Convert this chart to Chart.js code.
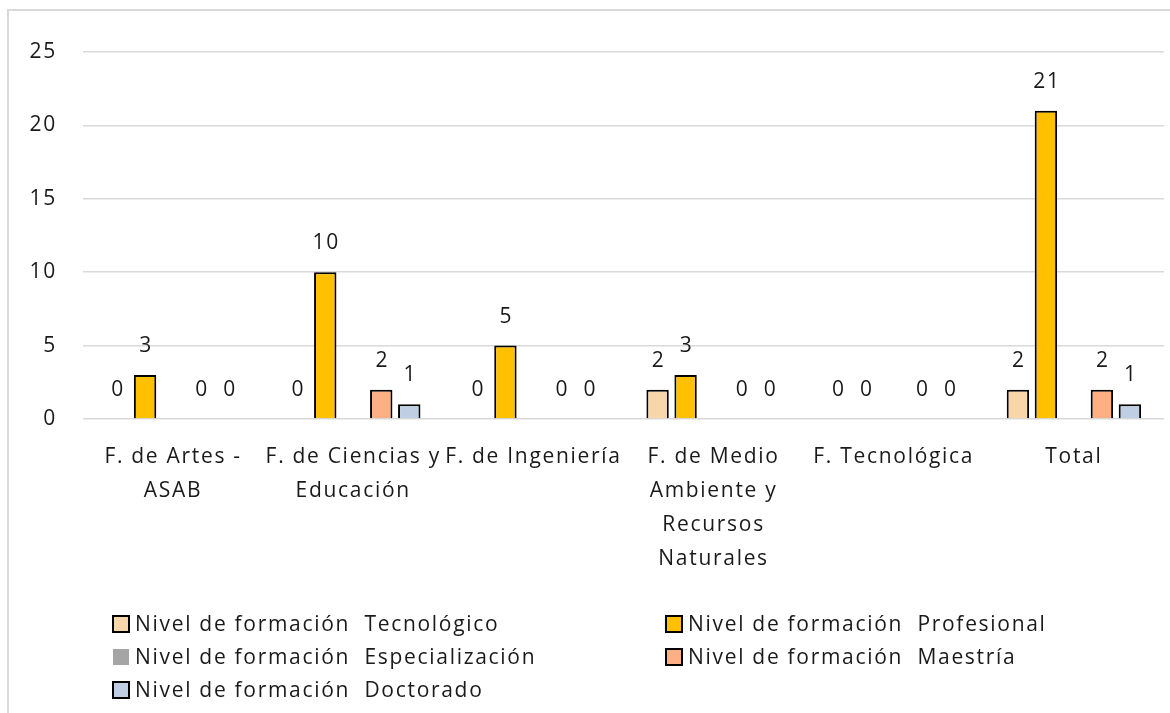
<!DOCTYPE html>
<html>
<head>
<meta charset="utf-8">
<script src="https://cdn.jsdelivr.net/npm/chart.js@4.4.1/dist/chart.umd.min.js"></script>
<style>
  html, body { margin: 0; padding: 0; background: #fff; overflow: hidden; }
  #wrap { position: relative; width: 1170px; height: 713px; }
  #frame { position: absolute; left: 7px; top: 9px; width: 1200px; height: 800px;
           border: 2px solid #d9d9d9; box-sizing: border-box; }
  canvas { position: absolute; left: 0; top: 0; }
</style>
</head>
<body>
<div id="wrap">
  <div id="frame"></div>
  <canvas id="chart" width="1170" height="713"></canvas>
</div>
<script>
// Faculties (multi-line axis labels)
const categories = [
  ["F. de Artes -", "ASAB"],
  ["F. de Ciencias y", "Educación"],
  ["F. de Ingeniería"],
  ["F. de Medio", "Ambiente y", "Recursos", "Naturales"],
  ["F. Tecnológica"],
  ["Total"]
];

const seriesNames = [
  "Nivel de formación  Tecnológico",
  "Nivel de formación  Profesional",
  "Nivel de formación  Especialización",
  "Nivel de formación  Maestría",
  "Nivel de formación  Doctorado"
];

const tecnologico     = [0, 0, 0, 2, 0, 2];
const profesional     = [3, 10, 5, 3, 0, 21];
const especializacion = [null, null, null, null, null, null];
const maestria        = [0, 2, 0, 0, 0, 2];
const doctorado       = [0, 1, 0, 0, 0, 1];

const yTicks = [0, 5, 10, 15, 20, 25];

const FONT = "'Open Sans', 'Noto Sans', sans-serif";
const SIZE = 21;
const TEXT = "#1a1a1a";
const SPACING = "1.7px";

// Wider tracking for every piece of canvas text
const tracking = {
  id: "tracking",
  beforeInit(chart) { chart.ctx.letterSpacing = SPACING; },
  beforeUpdate(chart) { chart.ctx.letterSpacing = SPACING; },
  beforeDraw(chart) { chart.ctx.letterSpacing = SPACING; }
};

// Value labels above each bar
const valueLabels = {
  id: "valueLabels",
  afterDatasetsDraw(chart) {
    const ctx = chart.ctx;
    ctx.save();
    ctx.font = SIZE + "px " + FONT;
    ctx.fillStyle = TEXT;
    ctx.textAlign = "center";
    ctx.textBaseline = "middle";
    chart.data.datasets.forEach((ds, i) => {
      const meta = chart.getDatasetMeta(i);
      meta.data.forEach((el, j) => {
        const v = ds.data[j];
        if (v === null || v === undefined) return;
        ctx.fillText(String(v), el.x + 1, el.y - 29);
      });
    });
    ctx.restore();
  }
};

// Two-column legend under the plot
const gridLegend = {
  id: "gridLegend",
  afterDraw(chart) {
    const ctx = chart.ctx;
    const cols = [113, 666];
    const rows = [624, 657, 690];
    ctx.save();
    ctx.font = SIZE + "px " + FONT;
    ctx.textAlign = "left";
    ctx.textBaseline = "middle";
    chart.data.datasets.forEach((ds, i) => {
      const x = cols[i % 2];
      const y = rows[Math.floor(i / 2)];
      ctx.fillStyle = ds.backgroundColor;
      ctx.fillRect(x, y - 8, 16, 16);
      if (ds.borderWidth > 0) {
        ctx.strokeStyle = ds.borderColor;
        ctx.lineWidth = 2;
        ctx.strokeRect(x, y - 8, 16, 16);
      }
      ctx.fillStyle = TEXT;
      ctx.fillText(ds.label, x + 22, y + 1);
    });
    ctx.restore();
  }
};

function bar(label, data, color, border) {
  return {
    label, data,
    backgroundColor: color,
    borderColor: "#000",
    borderWidth: border,
    borderSkipped: "bottom",
    categoryPercentage: 0.777,
    barPercentage: 0.8
  };
}

new Chart(document.getElementById("chart"), {
  type: "bar",
  data: {
    labels: categories,
    datasets: [
      bar(seriesNames[0], tecnologico, "#F9D6A9", 2),
      bar(seriesNames[1], profesional, "#FFC000", 2),
      bar(seriesNames[2], especializacion, "#A5A5A5", 0),
      bar(seriesNames[3], maestria, "#FFAF84", 2),
      bar(seriesNames[4], doctorado, "#BFCEE2", 2)
    ]
  },
  options: {
    responsive: false,
    animation: false,
    layout: { padding: { top: 52, left: 0, right: 6, bottom: 0 } },
    plugins: {
      legend: { display: false },
      tooltip: { enabled: false }
    },
    scales: {
      x: {
        grid: { display: false },
        border: { display: false },
        ticks: {
          color: TEXT,
          font: { family: FONT, size: SIZE, lineHeight: 34 / SIZE },
          maxRotation: 0,
          minRotation: 0,
          autoSkip: false,
          padding: 13
        },
        afterFit(s) { s.height = 294; }
      },
      y: {
        min: 0,
        max: 25,
        grid: { color: "#d9d9d9", lineWidth: 1.5, drawTicks: false },
        border: { display: false },
        ticks: {
          stepSize: 5,
          color: TEXT,
          font: { family: FONT, size: SIZE },
          padding: 26,
          callback: v => (yTicks.includes(v) ? String(v) : "")
        },
        afterFit(s) { s.width = 83; }
      }
    }
  },
  plugins: [tracking, valueLabels, gridLegend]
});
</script>
</body>
</html>
